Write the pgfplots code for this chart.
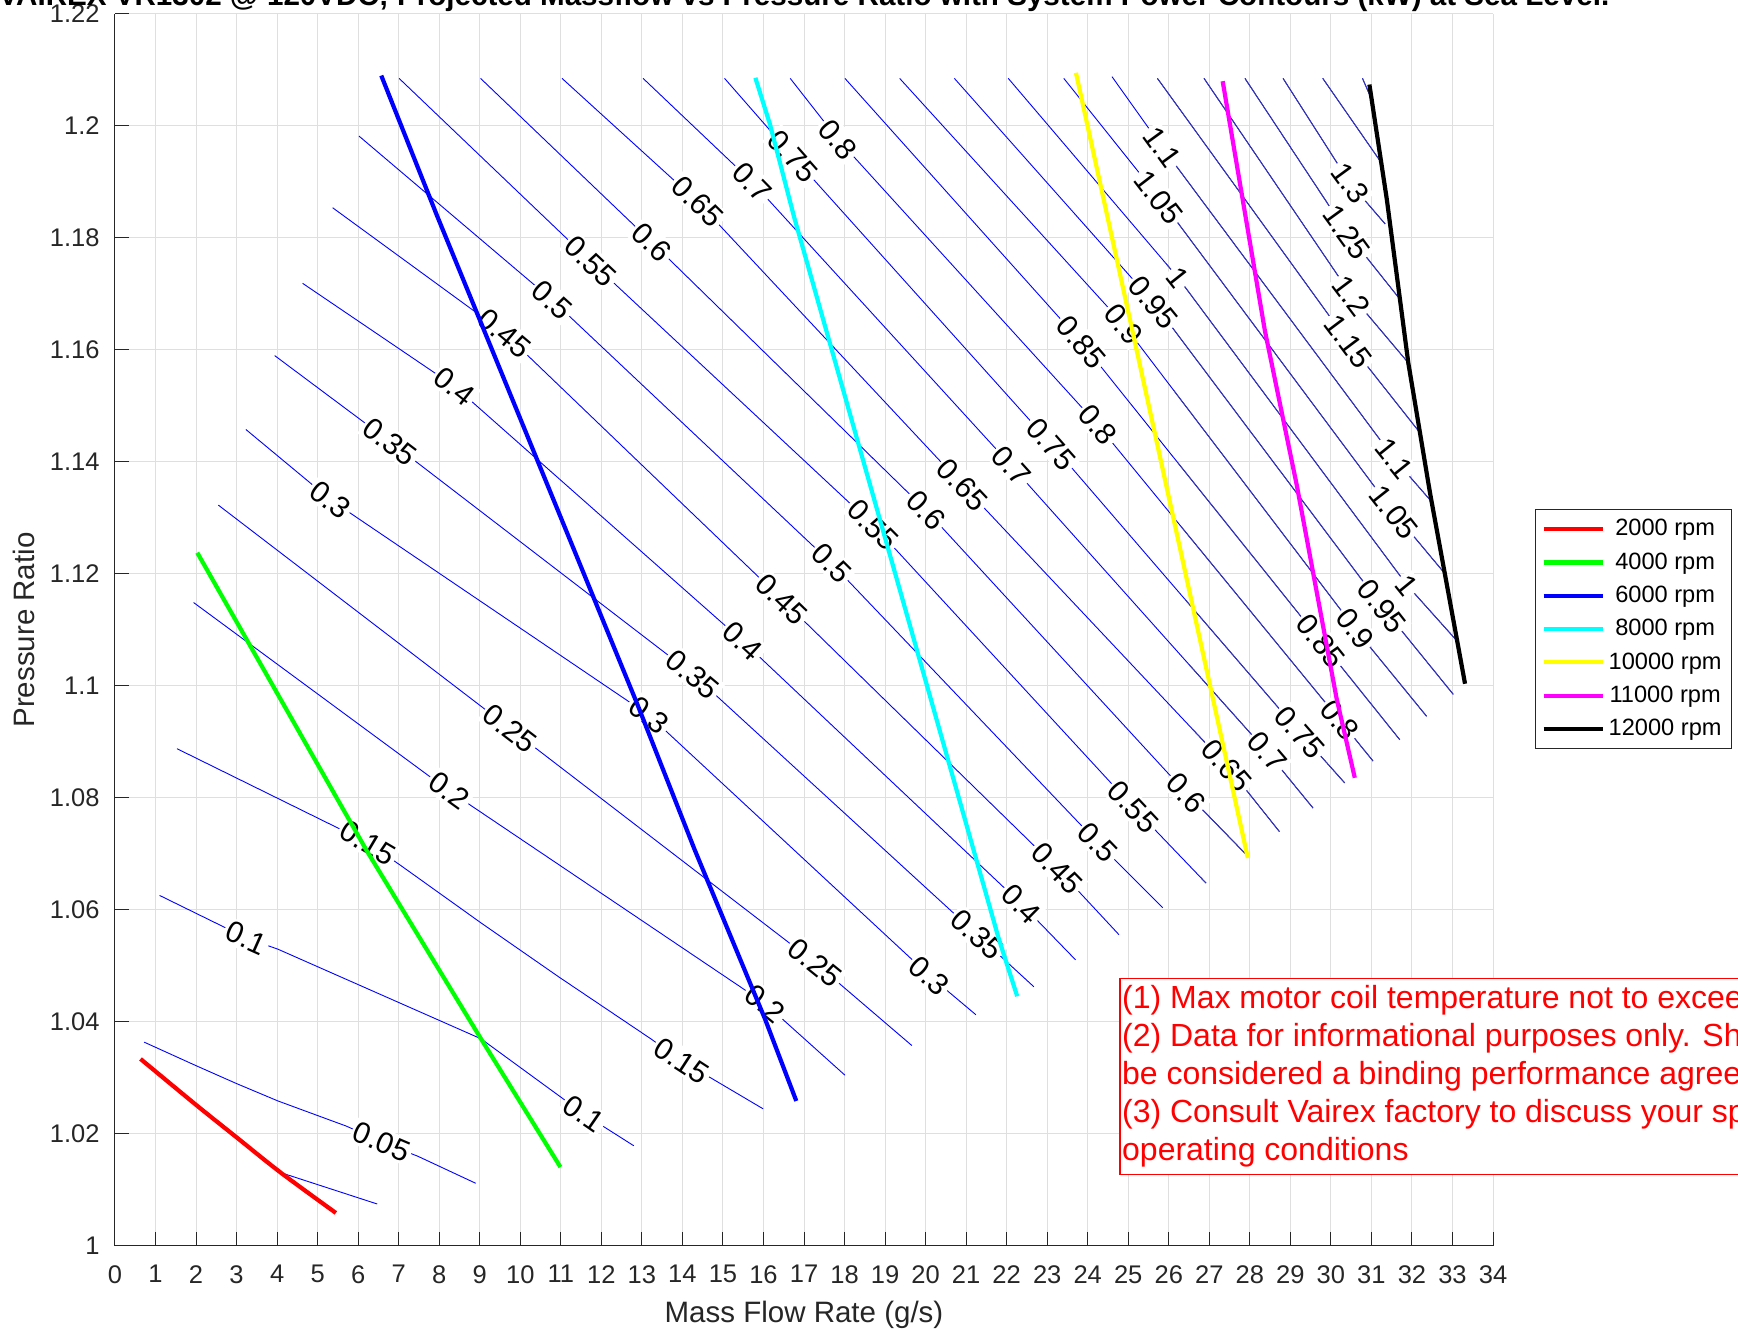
\documentclass[border=0pt]{standalone}
\usepackage{pgfplots}
\pgfplotsset{compat=1.18}
\usepackage{pgfplotstable}
\usepackage{fontspec}
\setmainfont{Liberation Sans}

\definecolor{cdark}{RGB}{55,55,165}
\definecolor{gridc}{RGB}{223,223,223}
\definecolor{axc}{RGB}{38,38,38}
\definecolor{mred}{RGB}{255,0,0}
\definecolor{mgreen}{RGB}{0,255,0}
\definecolor{mblue}{RGB}{0,0,255}
\definecolor{mcyan}{RGB}{0,255,255}
\definecolor{myellow}{RGB}{255,255,0}
\definecolor{mmagenta}{RGB}{255,0,255}
\tikzset{lab/.style={fill=white, inner sep=1.2pt, font=\fontsize{15}{15}\selectfont}}

\begin{document}

% power contours (kW), polylines split by nan rows
\pgfplotstableread{
x y
0.72 1.0364
2.0 1.0322
3.0 1.029
4.02 1.0259
5.71 1.0214
6.58 1.0186
7.48 1.016
8.90 1.0112
nan nan
4.09 1.0131
6.47 1.0075
nan nan
1.10 1.0626
3.24 1.055
4.02 1.053
9.03 1.037
10.96 1.0268
11.56 1.0236
12.80 1.0179
nan nan
1.53 1.0888
6.24 1.072
7.04 1.068
9.03 1.0577
10.96 1.048
13.22 1.037
13.98 1.0331
15.99 1.0245
nan nan
1.94 1.1149
8.24 1.0813
16.04 1.0433
18.01 1.0305
nan nan
2.55 1.1323
9.75 1.0924
17.27 1.0506
19.66 1.0358
nan nan
3.23 1.1458
5.31 1.1333
13.17 1.0948
20.09 1.0483
21.24 1.0413
nan nan
3.94 1.159
6.79 1.1436
14.26 1.1021
21.27 1.0556
22.67 1.0463
nan nan
4.63 1.1719
8.38 1.1535
15.49 1.108
22.36 1.0611
23.70 1.0511
nan nan
5.37 1.1854
9.61 1.163
16.45 1.1155
23.24 1.0675
24.77 1.0556
nan nan
6.02 1.1982
10.79 1.1689
17.68 1.1219
24.25 1.072
25.85 1.0604
nan nan
7.01 1.2085
11.74 1.1758
18.70 1.1288
25.12 1.0784
26.92 1.0648
nan nan
9.02 1.2085
13.25 1.1792
20.01 1.1314
26.43 1.0809
27.91 1.0699
nan nan
11.03 1.2085
14.37 1.1865
20.91 1.1359
27.43 1.0858
28.73 1.074
nan nan
13.03 1.2085
15.72 1.19
22.12 1.1393
28.43 1.0882
29.56 1.0782
nan nan
15.04 1.2085
16.72 1.1946
23.10 1.1432
29.23 1.0917
30.34 1.0827
nan nan
16.66 1.2085
17.84 1.1976
24.25 1.1466
30.22 1.0939
31.04 1.0866
nan nan
18.01 1.2085
23.84 1.1614
29.75 1.108
31.70 1.0904
nan nan
19.36 1.2085
24.88 1.1646
30.60 1.1102
32.36 1.0946
nan nan
20.71 1.2085
25.62 1.1685
31.26 1.1142
33.02 1.0985
nan nan
22.04 1.2085
26.23 1.1729
31.88 1.118
33.08 1.1083
nan nan
23.41 1.2085
25.75 1.1873
31.55 1.131
32.82 1.1200
nan nan
24.60 1.2088
25.84 1.1962
31.56 1.1406
32.45 1.1332
nan nan
25.72 1.2085
30.42 1.1615
32.20 1.1452
nan nan
26.87 1.2085
30.51 1.1697
31.91 1.1577
nan nan
27.88 1.2085
30.39 1.181
31.71 1.169
nan nan
28.82 1.2085
30.47 1.1898
31.34 1.1825
nan nan
29.80 1.2085
31.21 1.1938
nan nan
30.78 1.2085
31.02 1.2045
}\contours

\begin{tikzpicture}
\begin{axis}[
  name=ax, at={(0,0)}, anchor=south west,
  width=689pt, height=616pt, scale only axis,
  xmin=0, xmax=34, ymin=1, ymax=1.22,
  xtick={0,1,...,34},
  ytick={1,1.02,1.04,1.06,1.08,1.1,1.12,1.14,1.16,1.18,1.2,1.22},
  axis x line*=bottom, axis y line*=left,
  axis line style={axc, line width=0.5pt, -},
  tick align=inside, major tick length=7pt,
  tick style={axc, line width=0.5pt},
  grid=major, grid style={gridc, line width=0.5pt},
  /pgf/number format/assume math mode=true,
  ticklabel style={font=\fontsize{12.75}{14}\selectfont, text=axc},
  xticklabel style={anchor=north, inner sep=0pt, yshift=-9.5pt},
  yticklabel style={anchor=east, inner sep=0pt, xshift=-7.5pt},
  xlabel={Mass Flow Rate (g/s)}, ylabel={Pressure Ratio},
  label style={font=\fontsize{14.75}{16}\selectfont, text=axc},
  xlabel style={at={(axis description cs:0.5,-0.056)}, anchor=center},
  ylabel style={at={(axis description cs:-0.066,0.5)}, anchor=center},
  unbounded coords=jump,
  legend style={at={(axis description cs:1.0305,0.5982)}, anchor=north west,
    draw=axc, line width=0.5pt, fill=white,
    font=\fontsize{11.8}{13}\selectfont,
    nodes={inner sep=2pt}, row sep=2.9pt,
    inner xsep=3pt, inner ysep=3pt},
  legend cell align=center,
  legend image code/.code={\draw[#1] (0pt,0pt) -- (29.5pt,0pt);},
]

\addplot[mblue, line width=0.45pt, forget plot] table {\contours};
\begin{scope}
\clip (axis cs:25.6,1.22) -- (axis cs:27.0,1.04) -- (axis cs:34,1.04) -- (axis cs:34,1.22) -- cycle;
\addplot[cdark, line width=0.45pt, forget plot] table {\contours};
\end{scope}

% contour labels
\node[lab,rotate=-23] at (axis cs:6.58,1.0186) {0.05};
\node[lab,rotate=-24] at (axis cs:3.24,1.055) {0.1};
\node[lab,rotate=-34.6] at (axis cs:11.56,1.0236) {0.1};
\node[lab,rotate=-30.6] at (axis cs:6.24,1.072) {0.15};
\node[lab,rotate=-33] at (axis cs:13.98,1.0331) {0.15};
\node[lab,rotate=-35.8] at (axis cs:8.24,1.0813) {0.2};
\node[lab,rotate=-39.2] at (axis cs:16.04,1.0433) {0.2};
\node[lab,rotate=-37.5] at (axis cs:9.75,1.0924) {0.25};
\node[lab,rotate=-39] at (axis cs:17.27,1.0506) {0.25};
\node[lab,rotate=-37] at (axis cs:5.31,1.1333) {0.3};
\node[lab,rotate=-38.7] at (axis cs:13.17,1.0948) {0.3};
\node[lab,rotate=-41.5] at (axis cs:20.09,1.0483) {0.3};
\node[lab,rotate=-37.2] at (axis cs:6.79,1.1436) {0.35};
\node[lab,rotate=-40] at (axis cs:14.26,1.1021) {0.35};
\node[lab,rotate=-42.5] at (axis cs:21.27,1.0556) {0.35};
\node[lab,rotate=-38] at (axis cs:8.38,1.1535) {0.4};
\node[lab,rotate=-42.5] at (axis cs:15.49,1.108) {0.4};
\node[lab,rotate=-44.6] at (axis cs:22.36,1.0611) {0.4};
\node[lab,rotate=-40] at (axis cs:9.61,1.163) {0.45};
\node[lab,rotate=-44] at (axis cs:16.45,1.1155) {0.45};
\node[lab,rotate=-45.8] at (axis cs:23.24,1.0675) {0.45};
\node[lab,rotate=-42] at (axis cs:10.79,1.1689) {0.5};
\node[lab,rotate=-44.9] at (axis cs:17.68,1.1219) {0.5};
\node[lab,rotate=-46] at (axis cs:24.25,1.072) {0.5};
\node[lab,rotate=-43.3] at (axis cs:11.74,1.1758) {0.55};
\node[lab,rotate=-45.3] at (axis cs:18.70,1.1288) {0.55};
\node[lab,rotate=-46.8] at (axis cs:25.12,1.0784) {0.55};
\node[lab,rotate=-44] at (axis cs:13.25,1.1792) {0.6};
\node[lab,rotate=-46] at (axis cs:20.01,1.1314) {0.6};
\node[lab,rotate=-46.6] at (axis cs:26.43,1.0809) {0.6};
\node[lab,rotate=-44.7] at (axis cs:14.37,1.1865) {0.65};
\node[lab,rotate=-46.8] at (axis cs:20.91,1.1359) {0.65};
\node[lab,rotate=-49.2] at (axis cs:27.43,1.0858) {0.65};
\node[lab,rotate=-45.6] at (axis cs:15.72,1.19) {0.7};
\node[lab,rotate=-47.9] at (axis cs:22.12,1.1393) {0.7};
\node[lab,rotate=-49.5] at (axis cs:28.43,1.0882) {0.7};
\node[lab,rotate=-48.5] at (axis cs:16.72,1.1946) {0.75};
\node[lab,rotate=-48.5] at (axis cs:23.10,1.1432) {0.75};
\node[lab,rotate=-48.8] at (axis cs:29.23,1.0917) {0.75};
\node[lab,rotate=-50] at (axis cs:17.84,1.1976) {0.8};
\node[lab,rotate=-49.2] at (axis cs:24.25,1.1466) {0.8};
\node[lab,rotate=-50.9] at (axis cs:30.22,1.0939) {0.8};
\node[lab,rotate=-49.8] at (axis cs:23.84,1.1614) {0.85};
\node[lab,rotate=-51.3] at (axis cs:29.75,1.108) {0.85};
\node[lab,rotate=-50.3] at (axis cs:24.88,1.1646) {0.9};
\node[lab,rotate=-51.8] at (axis cs:30.60,1.1102) {0.9};
\node[lab,rotate=-50.9] at (axis cs:25.62,1.1685) {0.95};
\node[lab,rotate=-52] at (axis cs:31.26,1.1142) {0.95};
\node[lab,rotate=-51.6] at (axis cs:26.23,1.1729) {1};
\node[lab,rotate=-50.9] at (axis cs:31.88,1.118) {1};
\node[lab,rotate=-52.4] at (axis cs:25.75,1.1873) {1.05};
\node[lab,rotate=-51.8] at (axis cs:31.55,1.131) {1.05};
\node[lab,rotate=-54] at (axis cs:25.84,1.1962) {1.1};
\node[lab,rotate=-51.2] at (axis cs:31.56,1.1406) {1.1};
\node[lab,rotate=-53] at (axis cs:30.42,1.1615) {1.15};
\node[lab,rotate=-53] at (axis cs:30.51,1.1697) {1.2};
\node[lab,rotate=-54] at (axis cs:30.39,1.181) {1.25};
\node[lab,rotate=-53.8] at (axis cs:30.47,1.1898) {1.3};

% speed lines
\addplot[mred, line width=2.1pt, smooth] coordinates {(0.63,1.0334) (2.0,1.0252) (3.0,1.0194) (4.09,1.0131) (5.45,1.0059)};
\addlegendentry{2000 rpm}
\addplot[mgreen, line width=2.1pt] coordinates {(2.03,1.1238) (6.21,1.0706) (9.03,1.037) (10.99,1.0141)};
\addlegendentry{4000 rpm}
\addplot[mblue, line width=2.1pt] coordinates {(6.57,1.209) (7.95,1.1839) (8.92,1.1668) (12.89,1.0967) (14.3,1.0708) (16.04,1.0405) (16.81,1.0259)};
\addlegendentry{6000 rpm}
\addplot[mcyan, line width=2.1pt] coordinates {(15.80,1.2086) (16.16,1.2003) (16.75,1.1839) (21.80,1.055) (22.26,1.0446)};
\addlegendentry{8000 rpm}
\addplot[myellow, line width=2.1pt] coordinates {(23.71,1.2095) (26.77,1.1083) (27.95,1.0693)};
\addlegendentry{10000 rpm}
\addplot[mmagenta, line width=2.1pt] coordinates {(27.33,1.208) (28.37,1.1635) (29.16,1.1358) (30.14,1.0978) (30.59,1.0836)};
\addlegendentry{11000 rpm}
\addplot[black, line width=2.1pt] coordinates {(30.95,1.2074) (31.38,1.1869) (31.91,1.1577) (32.45,1.1343) (33.31,1.1004)};
\addlegendentry{12000 rpm}
\end{axis}

\node[anchor=base, font=\bfseries\fontsize{14.8}{16}\selectfont] at (344.5pt,620pt)
  {VAIREX VR1302 @ 120VDC; Projected Massflow vs Pressure Ratio with System Power Contours (kW) at Sea Level.};

\node[anchor=north west, draw=mred, line width=0.75pt, fill=white, text=mred, align=left,
  inner xsep=1.2pt, inner ysep=3.5pt, font=\fontsize{16}{19}\selectfont] at (502pt,134pt)
  {(1) Max motor coil temperature not to exceed 150 C\\
   (2) Data for informational purposes only. Should not\\
   be considered a binding performance agreement.\\
   (3) Consult Vairex factory to discuss your specific\\
   operating conditions};

\pgfresetboundingbox
\useasboundingbox (-57.5pt,-42.5pt) rectangle (811.5pt,623pt);
\end{tikzpicture}
\end{document}
